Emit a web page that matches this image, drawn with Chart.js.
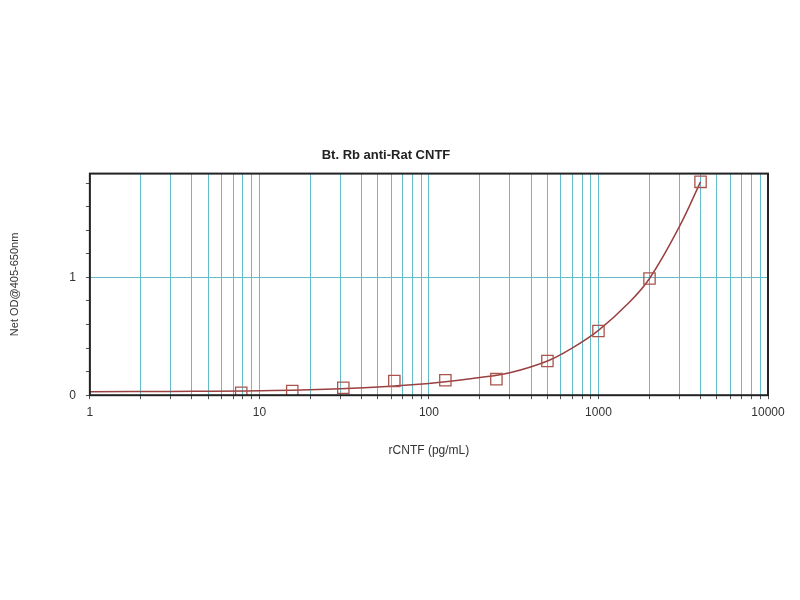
<!DOCTYPE html>
<html>
<head>
<meta charset="utf-8">
<script src="https://cdn.jsdelivr.net/npm/chart.js@4/dist/chart.umd.min.js"></script>
<style>
  html, body { margin: 0; padding: 0; background: #fff; }
  #wrap { width: 800px; height: 600px; }
</style>
</head>
<body>
<div id="wrap"><canvas id="myChart" width="800" height="600"></canvas></div>
<script>
// standard points (2-fold dilution series)
const conc = [7.8125, 15.625, 31.25, 62.5, 125, 250, 500, 1000, 2000, 4000];
const od = [0.02, 0.035, 0.063, 0.12, 0.127, 0.136, 0.29, 0.545, 0.99, 1.81];

// fitted curve
const fitConc = [1, 3, 10, 30, 100, 200, 300, 500, 700, 1000, 1500, 2000, 3000, 4000];
const fitOd = [0.03, 0.032, 0.038, 0.055, 0.10, 0.15, 0.19, 0.29, 0.40, 0.55, 0.78, 0.99, 1.43, 1.81];

// axis ticks
const xTicks = [1,2,3,4,5,6,7,8,9,10,20,30,40,50,60,70,80,90,100,200,300,400,500,600,700,800,900,1000,2000,3000,4000,5000,6000,7000,8000,9000,10000];
const xLabels = [1, 10, 100, 1000, 10000];
const yTicks = [0, 0.2, 0.4, 0.6, 0.8, 1, 1.2, 1.4, 1.6, 1.8];
const yLabels = [0, 1];

const gridTeal = '#62bcc9';
const curveColor = '#9a4040';

// black frame round the plot area
const frame = {
  id: 'frame',
  afterDraw(chart) {
    const a = chart.chartArea, ctx = chart.ctx;
    ctx.save();
    ctx.strokeStyle = '#222';
    ctx.lineWidth = 2;
    ctx.strokeRect(a.left, a.top, a.right - a.left, a.bottom - a.top);
    ctx.restore();
  }
};

let ctx = document.getElementById('myChart').getContext('2d');

let chart = new Chart(ctx, {
  type: 'scatter',
  data: {
    datasets: [
      {
        data: fitConc.map((x, i) => ({ x: x, y: fitOd[i] })),
        showLine: true,
        borderColor: curveColor,
        borderWidth: 1.5,
        pointRadius: 0,
        tension: 0.4,
        order: 2
      },
      {
        data: conc.map((x, i) => ({ x: x, y: od[i] })),
        showLine: false,
        pointStyle: 'rect',
        pointRadius: 8,
        pointBorderColor: '#a8544c',
        pointBackgroundColor: 'rgba(255,255,255,0)',
        pointBorderWidth: 1.3,
        order: 1
      }
    ]
  },
  options: {
    responsive: false,
    animation: false,
    layout: { padding: { top: 148, right: 32, bottom: 138, left: 4 } },
    plugins: {
      legend: { display: false },
      tooltip: { enabled: false },
      title: {
        display: true,
        text: 'Bt. Rb anti-Rat CNTF',
        color: '#222',
        font: { family: 'Liberation Sans', size: 13, weight: 'bold' },
        padding: { top: 0, bottom: 10 }
      }
    },
    scales: {
      x: {
        type: 'logarithmic',
        min: 1,
        max: 10000,
        afterBuildTicks: (axis) => { axis.ticks = xTicks.map(v => ({ value: v })); },
        ticks: {
          autoSkip: false,
          maxRotation: 0,
          color: '#333',
          font: { family: 'Liberation Sans', size: 12 },
          padding: 6,
          callback: (v) => xLabels.includes(v) ? String(v) : ''
        },
        grid: {
          color: (c) => (c.tick && (c.tick.value === 1 || c.tick.value === 10000)) ? 'rgba(0,0,0,0)' : gridTeal,
          tickColor: '#555',
          tickLength: 4,
          lineWidth: 1
        },
        border: { display: false },
        title: {
          display: true,
          text: 'rCNTF (pg/mL)',
          color: '#333',
          font: { family: 'Liberation Sans', size: 12 },
          padding: { top: 18 }
        }
      },
      y: {
        min: 0,
        max: 1.88,
        afterBuildTicks: (axis) => { axis.ticks = yTicks.map(v => ({ value: v })); },
        ticks: {
          autoSkip: false,
          color: '#333',
          font: { family: 'Liberation Sans', size: 12 },
          padding: 10,
          callback: (v) => yLabels.includes(v) ? String(v) : ''
        },
        grid: {
          color: (c) => (c.tick && c.tick.value === 1) ? gridTeal : 'rgba(0,0,0,0)',
          tickColor: '#555',
          tickLength: 4,
          lineWidth: 1
        },
        border: { display: false },
        title: {
          display: true,
          text: 'Net OD@405-650nm',
          color: '#333',
          font: { family: 'Liberation Sans', size: 11 },
          padding: { bottom: 38 }
        }
      }
    }
  },
  plugins: [frame]
});
</script>
</body>
</html>
